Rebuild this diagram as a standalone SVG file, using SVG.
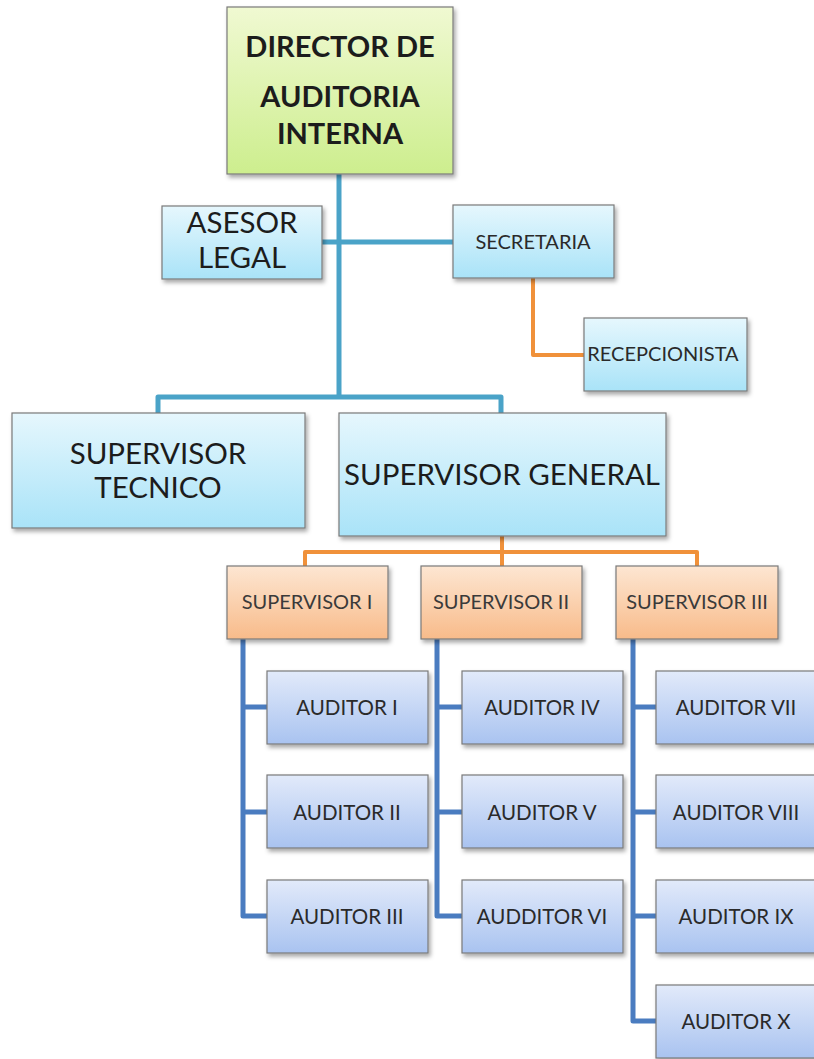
<svg xmlns="http://www.w3.org/2000/svg" width="814" height="1059" viewBox="0 0 814 1059">
<defs>
<linearGradient id="gGreen" x1="0" y1="0" x2="0" y2="1"><stop offset="0" stop-color="#f0f9d2"/><stop offset="1" stop-color="#cdee8e"/></linearGradient>
<linearGradient id="gCyan" x1="0" y1="0" x2="0" y2="1"><stop offset="0" stop-color="#e6f7fd"/><stop offset="1" stop-color="#a9e3f8"/></linearGradient>
<linearGradient id="gOrange" x1="0" y1="0" x2="0" y2="1"><stop offset="0" stop-color="#fde6d2"/><stop offset="1" stop-color="#f8bb8a"/></linearGradient>
<linearGradient id="gBlue" x1="0" y1="0" x2="0" y2="1"><stop offset="0" stop-color="#e2eafa"/><stop offset="1" stop-color="#a9c3f0"/></linearGradient>
<filter id="sh" x="-10%" y="-10%" width="125%" height="130%"><feDropShadow dx="2" dy="3" stdDeviation="2" flood-color="#000" flood-opacity="0.35"/></filter>
</defs>
<style>
.box{stroke:#7a7a7a;stroke-width:1.2;filter:url(#sh)}
.green{fill:url(#gGreen)}
.cyan{fill:url(#gCyan)}
.orange{fill:url(#gOrange)}
.blue{fill:url(#gBlue)}
text{font-family:Lato,"Liberation Sans",sans-serif;text-anchor:middle;fill:#1c1c1c}
.dir{font-size:29px;font-weight:bold}
.big{font-size:29.5px}
.mid{font-size:20px;fill:#2a2a2a}
.sup{font-size:20px;fill:#3a3a3a}
.aud{font-size:20.5px;fill:#2a2a2a}
.lc{fill:none;stroke:#4aa3c8;stroke-width:5;stroke-linejoin:round}
.lo{fill:none;stroke:#f0913a;stroke-width:4;stroke-linejoin:round}
.lb{fill:none;stroke:#4a7cc0;stroke-width:5;stroke-linejoin:round}
</style>
<g id="connectors">
<path class="lc" d="M339 174 V397 M322 242 H453 M158 413 V397 H501 V413"/>
<path class="lo" d="M533 278 V355 H584"/>
<path class="lo" d="M502 536 V566 M305 566 V552 H697 V566"/>
<path class="lb" d="M243 639 V916 H267 M243 707 H267 M243 812 H267"/>
<path class="lb" d="M437 639 V916 H462 M437 707 H462 M437 812 H462"/>
<path class="lb" d="M633 639 V1021 H656 M633 707 H656 M633 812 H656 M633 916 H656"/>
</g>
<g id="director"><rect class="box green" x="227" y="7" width="226" height="167"/><text class="dir" x="340" y="57">DIRECTOR DE</text><text class="dir" x="340" y="107">AUDITORIA</text><text class="dir" x="340" y="144">INTERNA</text></g>
<g id="asesor"><rect class="box cyan" x="162" y="206" width="160" height="73"/><text class="big" x="242" y="233">ASESOR</text><text class="big" x="242" y="268">LEGAL</text></g>
<g id="secretaria"><rect class="box cyan" x="453" y="205" width="161" height="73"/><text class="mid" x="533" y="249">SECRETARIA</text></g>
<g id="recepcionista"><rect class="box cyan" x="584" y="318" width="163" height="73"/><text class="mid" x="663" y="361">RECEPCIONISTA</text></g>
<g id="sup-tecnico"><rect class="box cyan" x="12" y="413" width="293" height="115"/><text class="big" x="158" y="464">SUPERVISOR</text><text class="big" x="158" y="498">TECNICO</text></g>
<g id="sup-general"><rect class="box cyan" x="339" y="413" width="327" height="123"/><text class="big" x="502" y="485">SUPERVISOR GENERAL</text></g>
<g id="sup1"><rect class="box orange" x="227" y="566" width="161" height="73"/><text class="sup" x="307" y="609">SUPERVISOR I</text></g>
<g id="sup2"><rect class="box orange" x="421" y="566" width="161" height="73"/><text class="sup" x="501" y="609">SUPERVISOR II</text></g>
<g id="sup3"><rect class="box orange" x="616" y="566" width="162" height="73"/><text class="sup" x="697" y="609">SUPERVISOR III</text></g>
<g id="aud1"><rect class="box blue" x="267" y="671" width="161" height="73"/><text class="aud" x="347" y="715">AUDITOR I</text></g>
<g id="aud2"><rect class="box blue" x="267" y="775" width="161" height="73"/><text class="aud" x="347" y="820">AUDITOR II</text></g>
<g id="aud3"><rect class="box blue" x="267" y="880" width="161" height="73"/><text class="aud" x="347" y="924">AUDITOR III</text></g>
<g id="aud4"><rect class="box blue" x="462" y="671" width="161" height="73"/><text class="aud" x="542" y="715">AUDITOR IV</text></g>
<g id="aud5"><rect class="box blue" x="462" y="775" width="161" height="73"/><text class="aud" x="542" y="820">AUDITOR V</text></g>
<g id="aud6"><rect class="box blue" x="462" y="880" width="161" height="73"/><text class="aud" x="542" y="924">AUDDITOR VI</text></g>
<g id="aud7"><rect class="box blue" x="656" y="671" width="161" height="73"/><text class="aud" x="736" y="715">AUDITOR VII</text></g>
<g id="aud8"><rect class="box blue" x="656" y="775" width="161" height="73"/><text class="aud" x="736" y="820">AUDITOR VIII</text></g>
<g id="aud9"><rect class="box blue" x="656" y="880" width="161" height="73"/><text class="aud" x="736" y="924">AUDITOR IX</text></g>
<g id="aud10"><rect class="box blue" x="656" y="985" width="161" height="73"/><text class="aud" x="736" y="1029">AUDITOR X</text></g>
</svg>
